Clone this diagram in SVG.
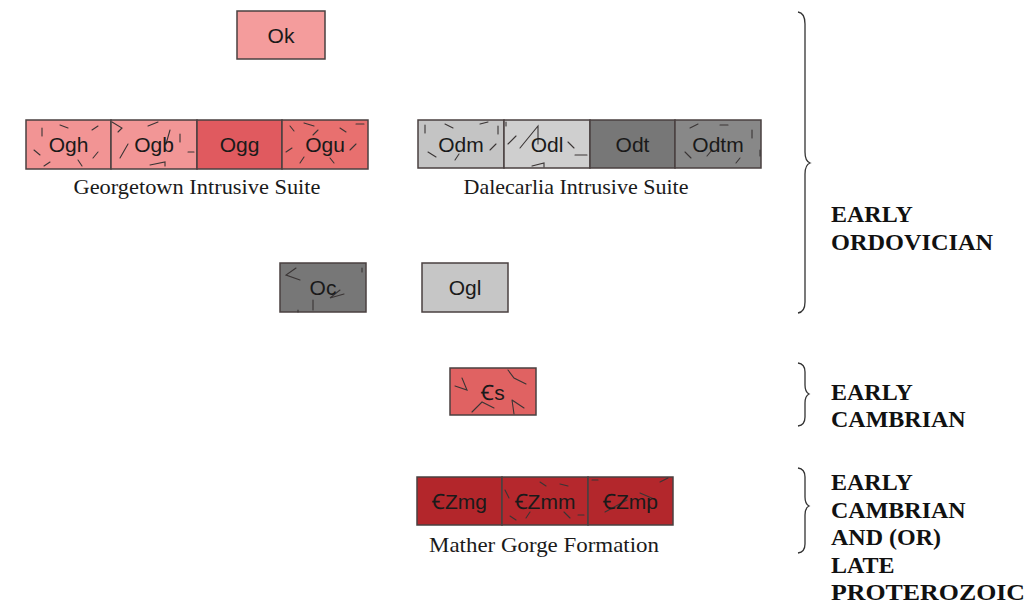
<svg xmlns="http://www.w3.org/2000/svg" width="1033" height="613" viewBox="0 0 1033 613">
<style>
.box{stroke:#4a4040;stroke-width:1.5}
.code{font-family:"Liberation Sans",Arial,sans-serif;font-size:21px;fill:#1a1a1a;text-anchor:middle}
.lbl{font-family:"Liberation Serif","Times New Roman",serif;font-size:21px;fill:#1a1a1a;text-anchor:middle}
.age{font-family:"Liberation Serif","Times New Roman",serif;font-size:24px;font-weight:bold;fill:#111}
.brace{fill:none;stroke:#333;stroke-width:1.3}
.mk{stroke:#3a3535;stroke-width:1.1;fill:none;stroke-linecap:round}
</style>
<rect width="1033" height="613" fill="#ffffff"/>

<g id="Ok"><rect class="box" x="237" y="11" width="88" height="48" fill="#f49c9c"/><text class="code" x="281" y="43">Ok</text></g>

<g id="Ogh"><rect class="box" x="26" y="120" width="85" height="49" fill="#f29494"/>
<path class="mk" d="M42,128 l0,8 M60,125 l8,3 M92,130 l6,-4 M34,150 l6,5 M98,152 l-5,6 M78,160 l4,6 M50,162 l-6,4"/>
<text class="code" x="68.5" y="152">Ogh</text></g>
<g id="Ogb"><rect class="box" x="111" y="120" width="86" height="49" fill="#f29696"/>
<path class="mk" d="M112,122 l10,6 l-4,4 M120,158 l8,-14 M148,126 l10,-4 M180,134 l0,8 M150,165 l15,-3 l0,4 M188,152 l6,0 M170,130 l-4,14"/>
<text class="code" x="154" y="152">Ogb</text></g>
<g id="Ogg"><rect class="box" x="197" y="120" width="85" height="49" fill="#e05a5f"/><text class="code" x="239.5" y="152">Ogg</text></g>
<g id="Ogu"><rect class="box" x="282" y="120" width="86" height="49" fill="#e8706f"/>
<path class="mk" d="M290,126 l4,5 M304,123 l10,3 M340,128 l6,4 M356,124 l8,0 M286,152 l6,-4 M350,150 l6,-6 M300,163 l4,-6 M330,158 l4,5 M318,130 l-5,5"/>
<text class="code" x="325" y="152">Ogu</text></g>
<text class="lbl" x="197" y="194" textLength="247" lengthAdjust="spacingAndGlyphs">Georgetown Intrusive Suite</text>

<g id="Odm"><rect class="box" x="418" y="120" width="86" height="48" fill="#c4c4c4"/>
<path class="mk" d="M425,125 l0,8 M445,124 l8,4 M480,124 l8,-2 M498,126 l0,8 M428,152 l8,5 M455,160 l4,-6 M490,150 l6,-6"/>
<text class="code" x="461" y="152">Odm</text></g>
<g id="Odl"><rect class="box" x="504" y="120" width="86" height="48" fill="#cfcfcf"/>
<path class="mk" d="M508,144 l8,-8 M520,148 l18,-22 l0,18 M568,142 l6,6 M575,155 l12,0 M532,166 l12,-3 l0,4 M506,122 l0,4"/>
<text class="code" x="547" y="152">Odl</text></g>
<g id="Odt"><rect class="box" x="590" y="120" width="85" height="48" fill="#777777"/><text class="code" x="632.5" y="152">Odt</text></g>
<g id="Odtm"><rect class="box" x="675" y="120" width="86" height="48" fill="#888888"/>
<path class="mk" d="M690,128 l8,-4 M720,125 l8,0 M752,130 l0,8 M685,152 l6,6 M740,158 l-4,5 M712,150 l-5,6 M760,150 l0,6"/>
<text class="code" x="718" y="152">Odtm</text></g>
<text class="lbl" x="576" y="194" textLength="225" lengthAdjust="spacingAndGlyphs">Dalecarlia Intrusive Suite</text>

<g id="Oc"><rect class="box" x="280" y="263" width="86" height="49" fill="#777777"/>
<path class="mk" d="M296,268 l-10,7 l14,5 M340,290 l-10,8 l14,-4 M313,300 l0,10 M298,310 l0,2 M362,268 l0,4"/>
<text class="code" x="323" y="295">Oc</text></g>
<g id="Ogl"><rect class="box" x="422" y="263" width="86" height="49" fill="#c6c6c6"/><text class="code" x="465" y="295">Ogl</text></g>

<g id="Cs"><rect class="box" x="450" y="368" width="86" height="47" fill="#e06262"/>
<path class="mk" d="M462,378 l5,12 l-12,-4 M508,370 l6,8 l12,6 M472,412 l10,-10 l12,6 M512,400 l12,8 M512,400 l2,14"/>
<text class="code" x="493" y="400">Ꞓs</text></g>

<g id="CZmg"><rect class="box" x="417" y="477" width="85" height="48" fill="#b3262b"/><text class="code" x="459.5" y="509">ꞒZmg</text></g>
<g id="CZmm"><rect class="box" x="502" y="477" width="86" height="48" fill="#b5282d"/>
<path class="mk" d="M505,490 l4,8 M540,482 l6,4 M560,484 l8,2 M510,516 l6,4 M530,512 l-4,6 M564,512 l6,6 M578,515 l6,0"/>
<text class="code" x="545" y="509">ꞒZmm</text></g>
<g id="CZmp"><rect class="box" x="588" y="477" width="85" height="48" fill="#b3272c"/>
<path class="mk" d="M592,480 l6,0 M605,512 l22,-12 M640,493 l14,6 M660,482 l8,-4"/>
<text class="code" x="630.5" y="509">ꞒZmp</text></g>
<text class="lbl" x="544" y="552" textLength="230" lengthAdjust="spacingAndGlyphs">Mather Gorge Formation</text>

<g id="connectors">
<path class="brace" d="M798,12 Q805,13 805,24 L805,152 Q805,161 810,163 Q805,165 805,174 L805,302 Q805,312 798,313"/>
<path class="brace" d="M798,363 Q805,364 805,372 L805,385 Q805,392 809,394 Q805,396 805,403 L805,417 Q805,425 798,426"/>
<path class="brace" d="M798,468 Q805,469 805,477 L805,497 Q805,504 809,506 Q805,508 805,515 L805,544 Q805,552 798,553"/>
</g>

<g id="age-ordovician"><text class="age" x="831" y="222">EARLY</text><text class="age" x="831" y="250" textLength="162" lengthAdjust="spacingAndGlyphs">ORDOVICIAN</text></g>
<g id="age-cambrian"><text class="age" x="831" y="400">EARLY</text><text class="age" x="831" y="427">CAMBRIAN</text></g>
<g id="age-proterozoic"><text class="age" x="831" y="490">EARLY</text><text class="age" x="831" y="518">CAMBRIAN</text><text class="age" x="831" y="545">AND (OR)</text><text class="age" x="831" y="573">LATE</text><text class="age" x="831" y="600" textLength="194" lengthAdjust="spacingAndGlyphs">PROTEROZOIC</text></g>
</svg>
